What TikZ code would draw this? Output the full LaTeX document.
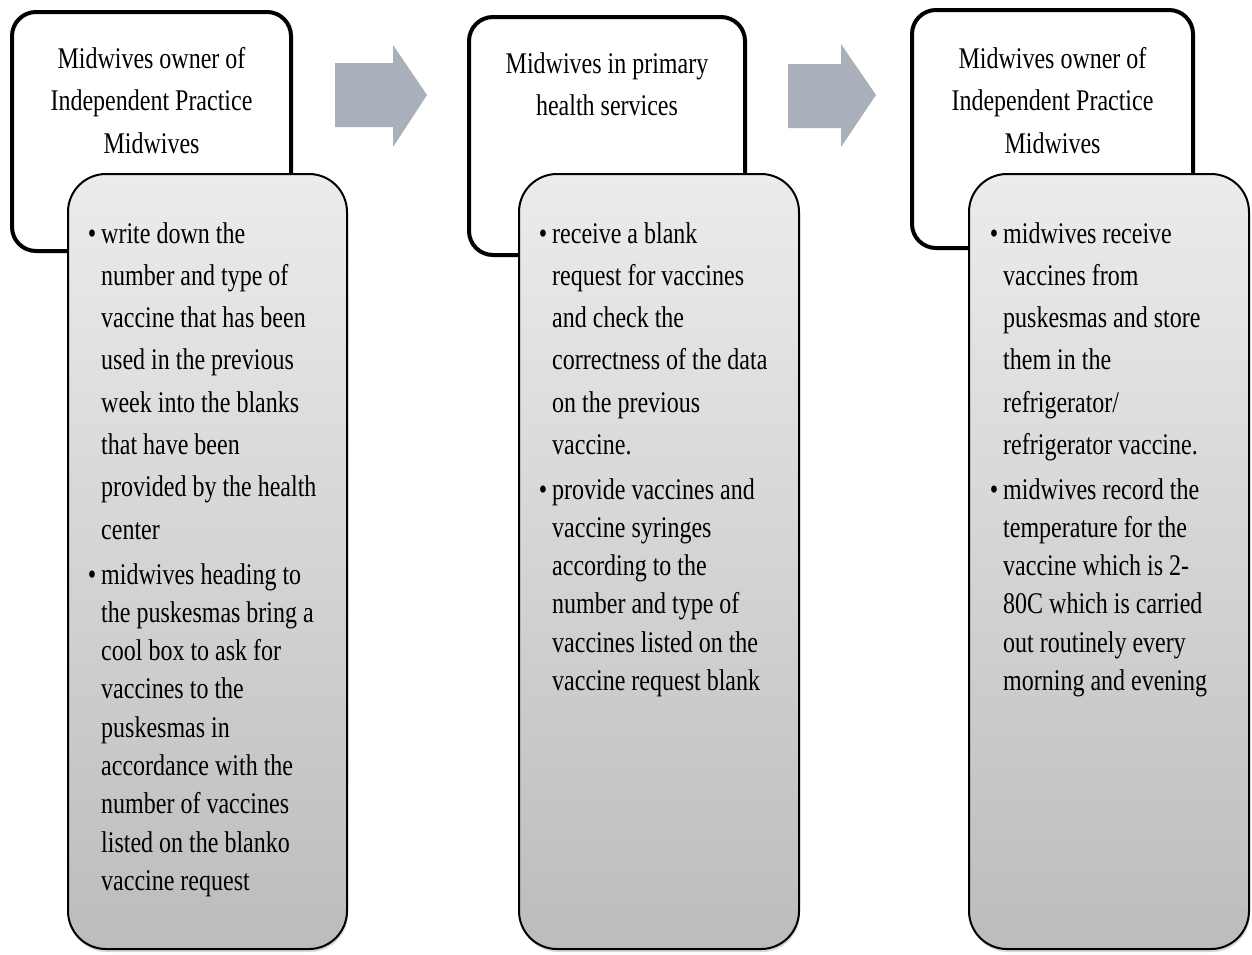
\documentclass[tikz,border=0pt]{standalone}
\usepackage{fontspec}
\setmainfont{Liberation Serif}[FakeStretch=0.8]
\usetikzlibrary{shadows}
\definecolor{arrowgray}{RGB}{170,175,188}
\definecolor{boxtop}{RGB}{236,236,236}
\definecolor{boxbot}{RGB}{188,188,188}
\newcommand{\bul}{\leavevmode\llap{\textbullet\hspace{5pt}}}
\begin{document}
\begin{tikzpicture}[x=1pt,y=-1pt,
  topbox/.style={draw=black, line width=4pt, rounded corners=24pt, fill=white, inner sep=0pt,
    drop shadow={opacity=0.25, shadow xshift=1pt, shadow yshift=-2pt}},
  detailbox/.style={draw=black, line width=2pt, rounded corners=38pt, top color=boxtop, bottom color=boxbot, inner sep=0pt,
    drop shadow={opacity=0.3, shadow xshift=1pt, shadow yshift=-3pt}},
  titletext/.style={anchor=base, inner sep=0pt, font=\fontsize{30}{42.5}\selectfont},
  bodyA/.style={anchor=base west, inner sep=0pt, font=\fontsize{30}{42.3}\selectfont},
  bodyB/.style={anchor=base west, inner sep=0pt, font=\fontsize{30}{38.3}\selectfont},
  flowarrow/.style={fill=arrowgray}
]
\useasboundingbox[fill=white] (0,0) rectangle (1252,954);

% arrows
\fill[flowarrow] (335,63) -- (393,63) -- (393,45) -- (427,95) -- (393,147) -- (393,127) -- (335,127) -- cycle;
\fill[flowarrow] (788,64) -- (841,64) -- (841,44) -- (876,95) -- (841,147) -- (841,128) -- (788,128) -- cycle;

% column 1
\node[topbox, minimum width=279pt, minimum height=239pt] (t1) at (151.5,131.5) {};
\node[titletext] (h1) at (151.5,68) {\parbox[t]{270pt}{\centering Midwives owner of\\ Independent Practice\\ Midwives}};
\node[detailbox, minimum width=279pt, minimum height=775pt] (d1) at (207.5,561.5) {};
\node[bodyA] (d1a) at (101,243) {\parbox[t]{300pt}{\raggedright\bul write down the\\ number and type of\\ vaccine that has been\\ used in the previous\\ week into the blanks\\ that have been\\ provided by the health\\ center}};
\node[bodyB] (d1b) at (101,584) {\parbox[t]{300pt}{\raggedright\bul midwives heading to\\ the puskesmas bring a\\ cool box to ask for\\ vaccines to the\\ puskesmas in\\ accordance with the\\ number of vaccines\\ listed on the blanko\\ vaccine request}};

% column 2
\node[topbox, minimum width=276pt, minimum height=238pt] (t2) at (607,136) {};
\node[titletext] (h2) at (607,73) {\parbox[t]{270pt}{\centering Midwives in primary\\ health services}};
\node[detailbox, minimum width=280pt, minimum height=775pt] (d2) at (659,561.5) {};
\node[bodyA] (d2a) at (552,243) {\parbox[t]{300pt}{\raggedright\bul receive a blank\\ request for vaccines\\ and check the\\ correctness of the data\\ on the previous\\ vaccine.}};
\node[bodyB] (d2b) at (552,499) {\parbox[t]{300pt}{\raggedright\bul provide vaccines and\\ vaccine syringes\\ according to the\\ number and type of\\ vaccines listed on the\\ vaccine request blank}};

% column 3
\node[topbox, minimum width=281pt, minimum height=238pt] (t3) at (1052.5,129) {};
\node[titletext] (h3) at (1052.5,68) {\parbox[t]{270pt}{\centering Midwives owner of\\ Independent Practice\\ Midwives}};
\node[detailbox, minimum width=280pt, minimum height=775pt] (d3) at (1109,561.5) {};
\node[bodyA] (d3a) at (1003,243) {\parbox[t]{300pt}{\raggedright\bul midwives receive\\ vaccines from\\ puskesmas and store\\ them in the\\ refrigerator/\\ refrigerator vaccine.}};
\node[bodyB] (d3b) at (1003,499) {\parbox[t]{300pt}{\raggedright\bul midwives record the\\ temperature for the\\ vaccine which is 2-\\ 80C which is carried\\ out routinely every\\ morning and evening}};
\end{tikzpicture}
\end{document}
